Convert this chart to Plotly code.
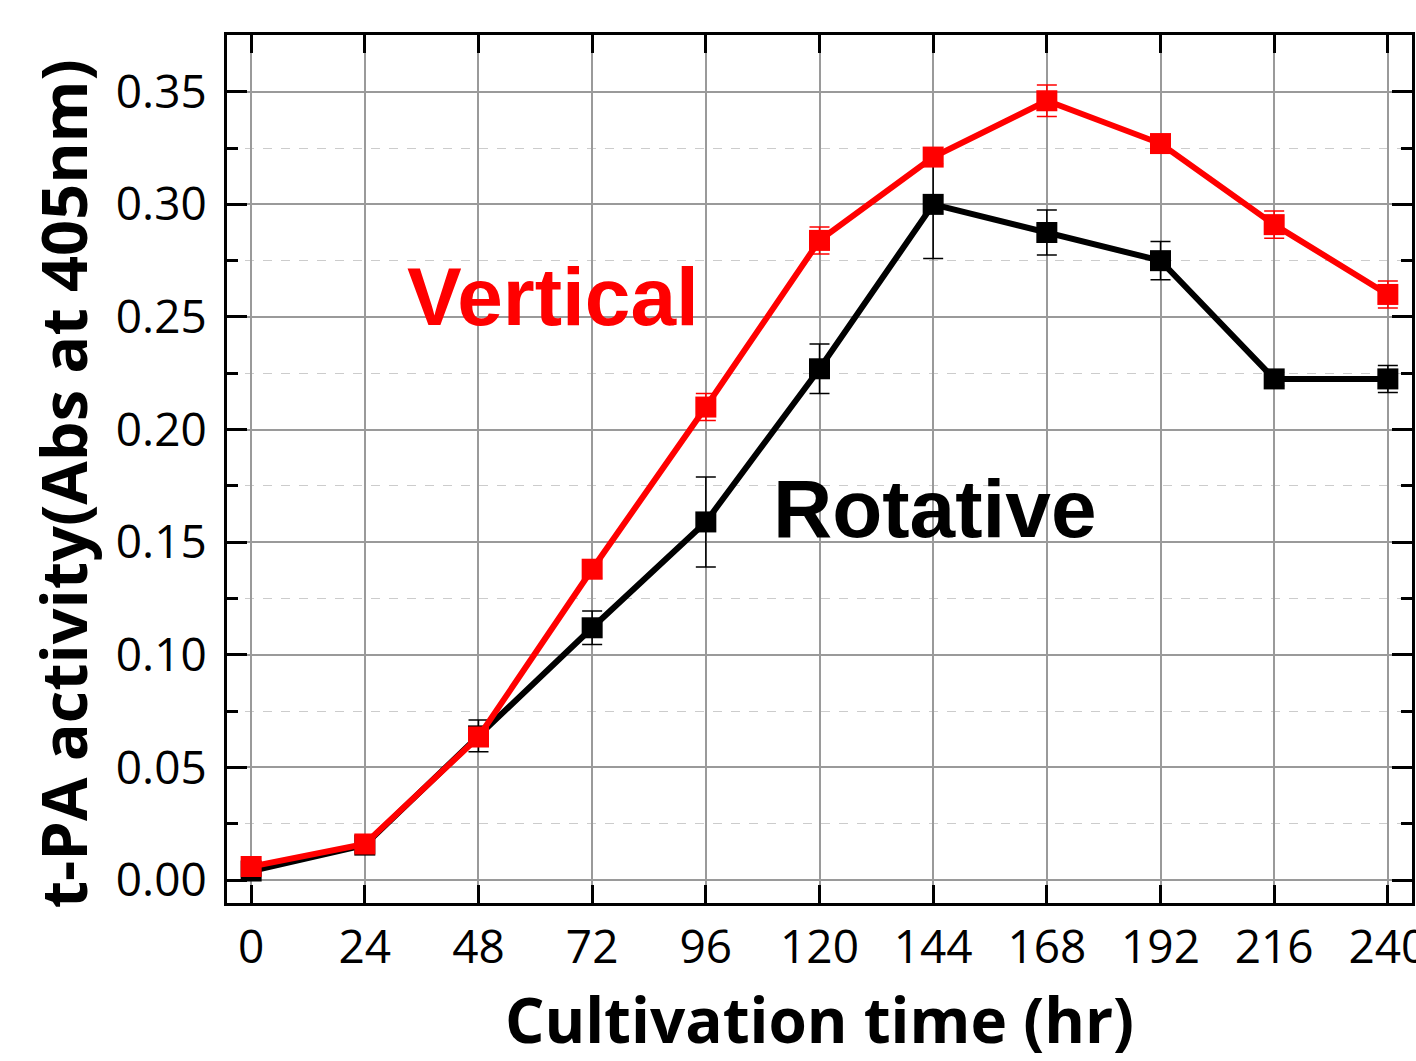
import plotly.graph_objects as go

time_hr = [0, 24, 48, 72, 96, 120, 144, 168, 192, 216, 240]
vertical = [0.006, 0.016, 0.0635, 0.138, 0.210, 0.284, 0.321, 0.346, 0.327, 0.291, 0.260]
vertical_err = [0.002, 0.002, 0.004, 0.004, 0.006, 0.006, 0.003, 0.007, 0.003, 0.006, 0.006]
rotative = [0.004, 0.0155, 0.064, 0.112, 0.159, 0.227, 0.300, 0.2875, 0.275, 0.2225, 0.2225]
rotative_err = [0.002, 0.002, 0.007, 0.0074, 0.020, 0.011, 0.024, 0.010, 0.0085, 0.003, 0.006]
x_ticks = [0, 24, 48, 72, 96, 120, 144, 168, 192, 216, 240]
y_ticks = [0.00, 0.05, 0.10, 0.15, 0.20, 0.25, 0.30, 0.35]

fig = go.Figure()
fig.add_trace(go.Scatter(
    x=time_hr, y=rotative, mode="lines+markers", name="Rotative",
    line=dict(color="black", width=6),
    marker=dict(symbol="square", size=21, color="black"),
    error_y=dict(type="data", array=rotative_err, color="black", thickness=1.5, width=10),
))
fig.add_trace(go.Scatter(
    x=time_hr, y=vertical, mode="lines+markers", name="Vertical",
    line=dict(color="#ff0000", width=6),
    marker=dict(symbol="square", size=21, color="#ff0000"),
    error_y=dict(type="data", array=vertical_err, color="#ff0000", thickness=1.5, width=10),
))

fig.add_annotation(x=63.8, y=0.259, text="<b>Vertical</b>", showarrow=False,
                   font=dict(family="Liberation Sans", size=82, color="#ff0000"))
fig.add_annotation(x=144.3, y=0.165, text="<b>Rotative</b>", showarrow=False,
                   font=dict(family="Liberation Sans", size=82, color="black"))
# y-axis title placed as a rotated annotation (paper coords)
fig.add_annotation(xref="paper", yref="paper", x=-0.139, y=0.4827,
                   xanchor="center", yanchor="middle", textangle=-90,
                   text="<b>t-PA activity(Abs at 405nm)</b>", showarrow=False,
                   font=dict(family="Open Sans", size=63, color="black"))

fig.update_layout(
    width=1416, height=1061,
    margin=dict(l=227, r=4, t=35, b=158, autoexpand=False),
    plot_bgcolor="white", paper_bgcolor="white",
    showlegend=False,
    font=dict(family="Open Sans", color="black"),
)
fig.update_xaxes(
    range=[-5.1, 245.1], tickmode="array", tickvals=x_ticks,
    ticktext=[str(v) for v in x_ticks],
    tickfont=dict(size=46, family="Open Sans"),
    ticklabeloverflow="allow", automargin=False,
    showline=True, linecolor="black", linewidth=3, mirror="ticks",
    ticks="inside", ticklen=18, tickwidth=3, tickcolor="black",
    showgrid=True, gridcolor="#9a9a9a", gridwidth=1.5,
    zeroline=False, ticklabelstandoff=2,
    title=dict(text="<b>Cultivation time (hr)</b>", font=dict(size=62, family="Open Sans"), standoff=26),
)
fig.update_yaxes(
    range=[-0.0102, 0.3752], tickmode="array", tickvals=y_ticks,
    ticktext=["%.2f" % v for v in y_ticks],
    tickfont=dict(size=46, family="Open Sans"),
    automargin=False,
    showline=True, linecolor="black", linewidth=3, mirror="ticks",
    ticks="inside", ticklen=20, tickwidth=3, tickcolor="black",
    showgrid=True, gridcolor="#9a9a9a", gridwidth=1.5,
    zeroline=False, ticklabelstandoff=8,
    minor=dict(dtick=0.025, tick0=0, ticks="inside", ticklen=11, tickwidth=3, tickcolor="black",
               showgrid=True, gridcolor="#cccccc", griddash="dash", gridwidth=1),
)

fig.write_html("out.html")
